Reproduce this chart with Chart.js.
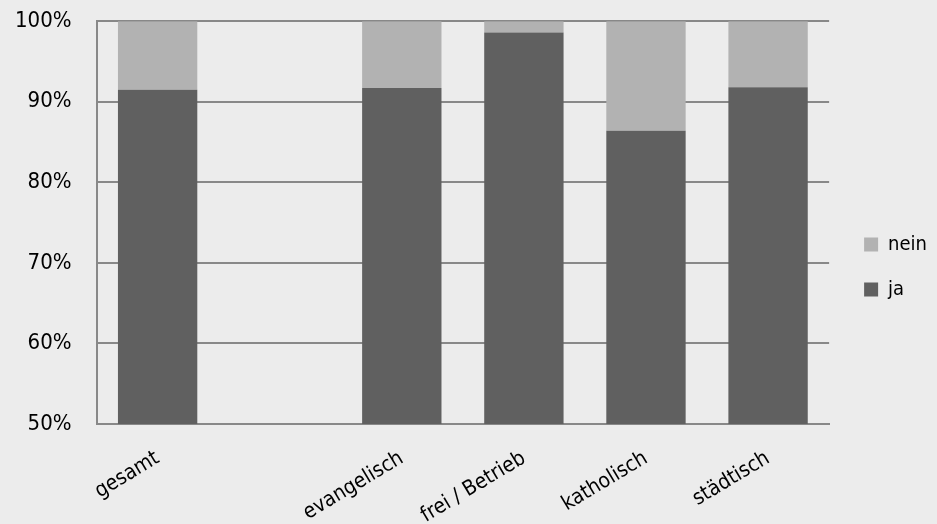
<!DOCTYPE html>
<html><head><meta charset="utf-8">
<script src="https://cdn.jsdelivr.net/npm/chart.js@4/dist/chart.umd.min.js"></script>
<style>html,body{margin:0;padding:0;background:#ececec;}canvas{display:block;}</style>
</head><body>
<canvas id="c" width="937" height="524"></canvas>
<script>
const categories = ["gesamt", "", "evangelisch", "frei / Betrieb", "katholisch", "städtisch"];
const jaValues = [91.5, null, 91.7, 98.6, 86.4, 91.8];
const neinValues = [8.5, null, 8.3, 1.4, 13.6, 8.2];
const yTicks = [50, 60, 70, 80, 90, 100];

const FONT = "'DejaVu Sans Condensed', 'Liberation Sans Narrow', 'Arial Narrow', sans-serif";

const bgPlugin = {
  id: 'bg',
  beforeDraw(chart) {
    const ctx = chart.ctx;
    ctx.save();
    ctx.fillStyle = '#ececec';
    ctx.fillRect(0, 0, chart.width, chart.height);
    ctx.restore();
  }
};

new Chart(document.getElementById('c'), {
  type: 'bar',
  data: {
    labels: categories,
    datasets: [
      { label: 'ja', data: jaValues, backgroundColor: '#606060', barPercentage: 0.65, categoryPercentage: 1.0 },
      { label: 'nein', data: neinValues, backgroundColor: '#b2b2b2', barPercentage: 0.65, categoryPercentage: 1.0 }
    ]
  },
  options: {
    responsive: false,
    animation: false,
    layout: { padding: { top: 10, right: 0, left: 7, bottom: 0 } },
    plugins: {
      tooltip: { enabled: false },
      legend: {
        position: 'right',
        reverse: true,
        align: 'center',
        labels: {
          color: '#000',
          font: { family: FONT, size: 20 },
          boxWidth: 14,
          boxHeight: 14,
          padding: 25
        }
      }
    },
    scales: {
      x: {
        stacked: true,
        grid: { display: false, drawTicks: false },
        border: { display: true, color: '#888', width: 2 },
        afterFit(scale) { scale.height = 100; },
        ticks: {
          color: '#000',
          font: { family: FONT, size: 21 },
          minRotation: 31,
          maxRotation: 31,
          padding: 22,
          autoSkip: false
        }
      },
      y: {
        stacked: true,
        min: 50,
        max: 100,
        afterBuildTicks(axis) { axis.ticks = yTicks.map(v => ({ value: v })); },
        grid: { color: '#888', lineWidth: 2, drawTicks: true, tickLength: 17, tickColor: 'rgba(0,0,0,0)' },
        border: { display: true, color: '#888', width: 2 },
        ticks: {
          color: '#000',
          font: { family: FONT, size: 22 },
          padding: 8,
          callback: v => v + '%'
        }
      },
      gap: {
        type: 'linear',
        position: 'right',
        display: true,
        grid: { display: false, drawTicks: false },
        border: { display: false },
        ticks: { display: false },
        afterFit(scale) { scale.width = 10; }
      }
    }
  },
  plugins: [bgPlugin]
});
</script>
</body></html>
